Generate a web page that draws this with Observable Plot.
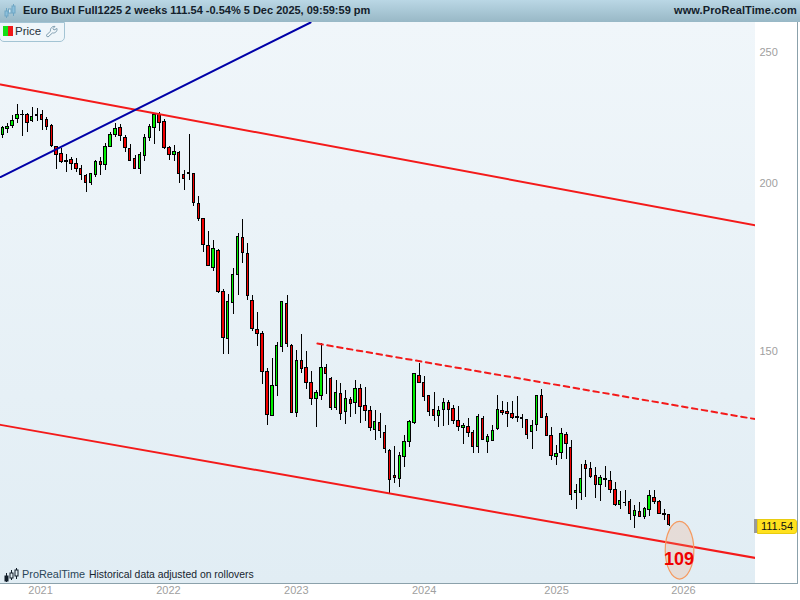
<!DOCTYPE html>
<html><head><meta charset="utf-8">
<script src="https://cdn.jsdelivr.net/npm/d3@7"></script>
<script src="https://cdn.jsdelivr.net/npm/@observablehq/plot@0.6"></script>
<style>
html,body{margin:0;padding:0;background:#fff;width:800px;height:600px;overflow:hidden;font-family:"Liberation Sans",Arial,sans-serif}
#wrap{position:relative;width:800px;height:600px}
#head{position:absolute;left:0;top:0;width:800px;height:22px;background:linear-gradient(#bad7e5,#98b8c6)}
#head .t{position:absolute;top:4px;font:bold 11px "Liberation Sans",Arial,sans-serif;color:#13202a;white-space:nowrap}
#chart{position:absolute;left:0;top:22px}
.abs{position:absolute;white-space:nowrap}
</style></head><body><div id="wrap">
<div id="chart"></div>
<div id="head">
 <svg class="abs" style="left:4px;top:3px" width="14" height="17"><g stroke="#6fa6c4" fill="#8cc0dc"><path d="M2.5 5v10M9.5 1v12" stroke-width="1"/><rect x="1" y="8" width="3" height="5"/><rect x="8" y="3" width="3" height="7"/><rect x="4.5" y="6" width="2.5" height="4" fill="#d8ecf5"/></g></svg>
 <span class="t" id="ttl" style="left:23px">Euro Buxl Full1225 2 weeks 111.54 -0.54% 5 Dec 2025, 09:59:59 pm</span>
 <span class="t" id="site" style="right:3px;letter-spacing:.1px">www.ProRealTime.com</span>
</div>
<div class="abs" style="left:-1px;top:22px;width:64px;height:18px;border:1px solid #a3c4d4;border-radius:0 0 5px 5px;background:#eff6fa"></div>
<div class="abs" style="left:3px;top:26px;width:5px;height:10px;background:#14e014"></div>
<div class="abs" style="left:8px;top:26px;width:5px;height:10px;background:#f01818"></div>
<div class="abs" style="left:15px;top:25px;font-size:11.5px;color:#26323a">Price</div>
<svg class="abs" style="left:45px;top:25px" width="14" height="13"><path d="M1 10.5 5.5 6.2C5 3.5 7 1 10 1.4L8 3.6 9 5l3-1.5C12.5 6.5 10 8.4 7.4 8L3 12Z" fill="none" stroke="#7f9eb0"/></svg>
<div class="abs" style="left:0;top:583px;width:797px;height:1px;background:#8ba1ab"></div>
<div class="abs" style="left:797px;top:22px;width:1px;height:562px;background:#8ba1ab"></div>
<svg class="abs" style="left:3px;top:567px" width="16" height="16"><g stroke="#101c28" fill="#101c28"><path d="M3.5 6v9M8.5 3v10M13.5 1v11" stroke-width="1"/><rect x="2" y="9" width="3" height="5"/><rect x="7" y="6" width="3" height="5" fill="#e4eff5"/><rect x="12" y="3" width="3" height="6" fill="#e4eff5"/></g></svg>
<div class="abs" style="left:22px;top:568px;font-size:10.9px;color:#2a4658">ProRealTime</div>
<div class="abs" style="left:89px;top:569px;font-size:10.4px;color:#16242e">Historical data adjusted on rollovers</div>
<div class="abs" style="left:754px;top:519px;width:4px;height:14px;background:#9a9a9a"></div>
<div class="abs" id="lastbox" style="left:757px;top:518.5px;width:38px;height:13px;background:#ffe11e;border:1px solid #e8cc10;border-radius:0 3px 3px 0;font-size:11px;line-height:13px;text-align:center;color:#111"></div>
</div>
<script>
const lastPrice = "111.54";
const high = [220.3,221.6,224.5,228.8,226.4,225.1,227.4,227,226.4,223.6,
221,213.1,212.1,209.9,209.1,208.5,206,203.1,203.3,207.9,
208.9,214,218.2,221.3,221,217,213.7,209.7,210.9,217.2,
221,225.1,225.5,222.9,213.1,213.4,211.2,204.4,217.2,203.3,
195.5,188.2,184.3,181.4,178.7,166.9,165.5,172.9,183.4,188,
180.5,165.2,160.4,155.3,145.8,148.4,152.5,163.2,165.2,151.8,
150.4,154.6,150.1,145.1,140.3,152.1,146.7,143.6,142.7,142.2,
140.4,138.7,142.7,141.9,141.2,136.6,135.7,135,132.2,126.9,
127.5,126.2,130,133.3,144.6,147.1,143.9,139.1,140,136.7,
138.6,138.1,136.9,136.6,132.8,133.9,131.2,134.8,134.4,130.3,
132.2,139.1,137.7,137.6,137.9,139,134.8,133.7,133.5,139.3,
140.7,135,131.9,127.9,131.5,130.8,129,119.6,123.8,124.6,
124.2,123.2,121.4,123.4,122.2,120,118.2,118.4,116.6,115.4,
115.9,115,118.4,118.3,116.4,114.5,113.7];
const low = [216,217.6,219.4,221.3,216.4,218.2,221.7,222.3,218.8,218.8,
212.7,204.6,206.7,203.8,204.4,203.8,200.8,197,199.1,202.1,
202.7,204.4,212.7,216.2,214.6,210.9,207.7,204.6,203,207.7,
214.6,213.6,218.5,211.9,207.9,207.7,200,197.4,201,192.2,
187.2,177.6,173.4,171.9,165.8,149.2,149.2,159.8,165,174.3,
163.6,155.2,151.3,141.8,132.2,134.2,139,149.7,151,135,
134,144.5,140.7,136.8,131.8,138,139.4,135.6,135.8,133.3,
132.5,134,134.7,132.8,133.1,131,129,129.3,126.1,117.8,
119.7,119,123.1,127.4,132.5,142.1,137.8,134.3,133.1,131.8,
132,132.2,132.5,131,128,129.5,126,126,128.9,126.1,
128.6,131.1,134.6,131.8,133.7,132.9,131.6,129.2,127,130.9,
133.8,129.8,124.6,123.5,124.8,124.8,116.4,114.5,116.4,117,
120.9,116.7,116.2,119,117.8,115.2,114.6,115.2,112.5,110.9,
113,112.7,113.3,115.5,113.6,112.5,111.3];
const open = [217.2,219.3,220.4,223.2,224.8,224.8,222.3,224.5,224.8,222.9,
220.5,212.7,210.3,207.8,208.2,206.7,205,202.5,200.2,202.8,
207.4,206.4,212.9,217,219.8,216.2,212.1,208.5,205,209.4,
216.2,219.8,224.5,222.1,212.5,210,210.7,202.9,203.1,203.2,
193.1,188.2,179.8,173.1,178,166.2,153.3,162.9,171.1,182,
177.1,163.7,155.8,154.5,144.8,134.5,141.4,151.1,162.6,151.6,
135,147.6,145.8,142.1,138.3,139,145.8,143.3,136.3,139.5,
135.3,138.1,137.4,140.7,136.7,135.5,131.2,132.8,130.5,126.6,
121.3,120.7,125.3,128.5,132.8,144,142.3,139,135.7,134.4,
135.7,137.4,136,133.2,131.7,131.9,130.5,127.5,133.7,128.5,
128.9,131.5,135.5,135.3,134.8,134.1,133.9,133.4,130.8,132.3,
139,134.1,129.9,125.3,126.1,130.1,127.3,117.8,117.8,123.6,
122.7,121.4,119.5,120.7,120.3,118.4,115.5,115.9,116,113.4,
114.1,113.1,114.5,116.9,116,113.7,113.6];
const close = [219.8,220.3,222.5,224.8,224.6,221.6,224,224.3,222.9,220,
213.1,210,207.3,207.4,206.6,205,202.8,199.9,203.1,207.4,
206.4,212.9,217.2,219.4,216.6,212.5,207.8,205,209.7,216.2,
220,224.5,221.7,212.3,210,211,203.1,201.6,203.5,193.2,
188.1,180,173.7,178.6,166.1,153.6,163.2,171.1,182.3,177.4,
164.9,156,154.6,144.8,134.7,141.4,151.4,163.2,151.9,135.2,
147.6,145.7,142.1,138.3,139.7,145.8,144.3,136.3,139.7,134.8,
138.4,137.1,140.7,136.4,135.5,131.7,133,131,127,120.5,
121,125.5,128.5,133,144.3,142.1,138.8,135.3,134.4,135.5,
137.4,135.7,133.3,131.9,132.1,130.5,127.5,134.1,129.1,129.6,
131,135.7,135,134.8,133.9,133.9,133.7,130.1,132.1,139,
133.9,129.9,125.5,125.9,130.4,128.1,117.4,118.2,120.7,122.9,
121.1,119.5,120.9,120.5,118.4,115.4,116.2,115.8,113.7,114.3,
113.1,114.7,117.2,116,113.7,113.6,111.54];
const xTicks = [7.7,33.8,59.9,86,113,138.9];
const yearLabels = ["2021","2022","2023","2024","2025","2026"];
const priceTicks = [150,200,250];
const upperChannel = [{i:-0.47,p:236.7},{i:153.6,p:186.1}];
const lowerChannel = [{i:-0.47,p:132.4},{i:153.6,p:105.5}];
const blueTrend = [{i:-0.47,p:202.1},{i:62.8,p:263.1}];
const dashedChannel = [{i:64.2,p:152.1},{i:153.6,p:133.7}];
const targetMark = [{i:138.1,p:106.9}];
const targetLabel = [{i:138.0,p:105.2,t:"109"}];

const bars = high.map((h,k)=>({i:k,h,l:low[k],o:open[k],c:close[k]}));
const ellipseSymbol = {draw(ctx,size){
  const ry=Math.sqrt(size/Math.PI), rx=ry*0.497, k=0.5523;
  ctx.moveTo(0,-ry);
  ctx.bezierCurveTo(rx*k,-ry,rx,-ry*k,rx,0);
  ctx.bezierCurveTo(rx,ry*k,rx*k,ry,0,ry);
  ctx.bezierCurveTo(-rx*k,ry,-rx,ry*k,-rx,0);
  ctx.bezierCurveTo(-rx,-ry*k,-rx*k,-ry,0,-ry);
  ctx.closePath();
}};
const chart = Plot.plot({
  width:800,height:578,
  marginTop:0,marginBottom:17,marginLeft:0,marginRight:45,
  x:{type:"linear",domain:[-0.47,153.6]},
  y:{type:"log",domain:[101.0,263.1]},
  style:{background:"linear-gradient(#f0f6fa,#e1edf4) no-repeat 0 0 / 755px 561px",fontFamily:'"Liberation Sans",Arial,sans-serif',fontSize:"11px",overflow:"visible"},
  marks:[
    Plot.axisX({ticks:xTicks,tickFormat:v=>yearLabels[xTicks.indexOf(v)],tickSize:0,tickPadding:3,label:null,fill:"#a0a0a0",fontSize:11}),
    Plot.axisY({anchor:"right",ticks:priceTicks,tickFormat:d=>String(d),tickSize:0,tickPadding:4,label:null,fill:"#a0a0a0",fontSize:11}),
    Plot.ruleX(bars,{x:"i",y1:"l",y2:"h",stroke:"#000",strokeWidth:1,shapeRendering:"crispEdges"}),
    Plot.rect(bars.filter(d=>d.c>=d.o),{x1:d=>d.i-0.25,x2:d=>d.i+0.25,y1:"o",y2:"c",fill:"#00f000",stroke:"#000",strokeWidth:1,shapeRendering:"crispEdges"}),
    Plot.rect(bars.filter(d=>d.c<d.o),{x1:d=>d.i-0.25,x2:d=>d.i+0.25,y1:"o",y2:"c",fill:"#f00000",stroke:"#000",strokeWidth:1,shapeRendering:"crispEdges"}),
    Plot.line(upperChannel,{x:"i",y:"p",stroke:"#f41a1a",strokeWidth:2,clip:true}),
    Plot.line(lowerChannel,{x:"i",y:"p",stroke:"#f41a1a",strokeWidth:2,clip:true}),
    Plot.line(blueTrend,{x:"i",y:"p",stroke:"#0000a8",strokeWidth:2,clip:true}),
    Plot.line(dashedChannel,{x:"i",y:"p",stroke:"#f41a1a",strokeWidth:2,strokeDasharray:"5.5,4.5",clip:true}),
    Plot.dot(targetMark,{x:"i",y:"p",r:28.8,symbol:ellipseSymbol,fill:"#f0a070",fillOpacity:0.22,stroke:"#f59a60",strokeWidth:1.2}),
    Plot.text(targetLabel,{x:"i",y:"p",text:"t",fill:"#f00000",fontSize:18,fontWeight:"bold",stroke:"none"})
  ]
});
document.getElementById("chart").appendChild(chart);
document.getElementById("lastbox").textContent = lastPrice;
</script>
</body></html>
